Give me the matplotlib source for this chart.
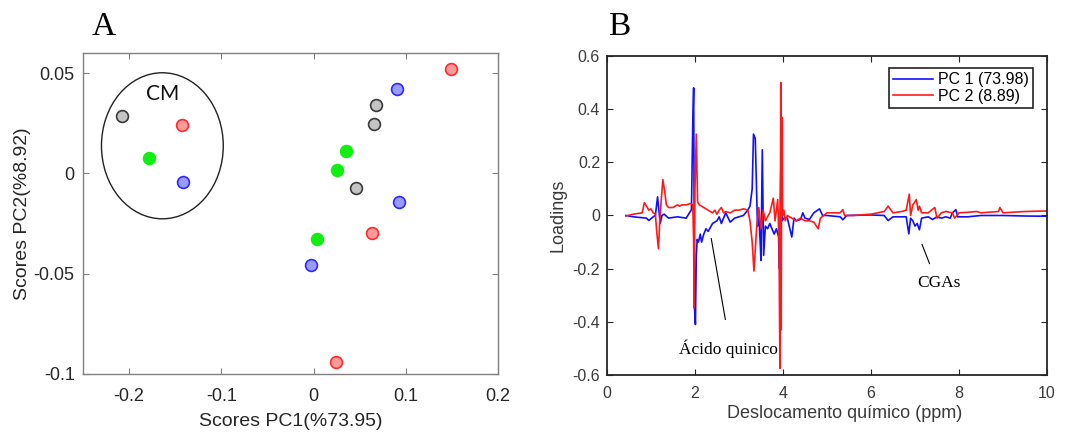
import numpy as np
import matplotlib
matplotlib.use("Agg")
import matplotlib.pyplot as plt
from matplotlib.patches import Ellipse

plt.rcParams.update({
    "font.family": ["Liberation Sans", "DejaVu Sans"],
    "axes.linewidth": 1.0,
    "xtick.direction": "in",
    "ytick.direction": "in",
    "xtick.top": True,
    "ytick.right": True,
})

# ---------------- Panel A: PCA scores ----------------
score_groups = ["red", "blue", "gray", "green"]
score_pc1 = {
    "red":   [0.1495, 0.0639, 0.0242, -0.1422],
    "blue":  [0.0903, 0.0931, -0.0022, -0.1415],
    "gray":  [0.0679, 0.0657, 0.0458, -0.2080],
    "green": [0.0350, 0.0260, 0.0036, -0.1780],
}
score_pc2 = {
    "red":   [0.0522, -0.0297, -0.0938, 0.0240],
    "blue":  [0.0420, -0.0145, -0.0455, -0.0043],
    "gray":  [0.0340, 0.0247, -0.0075, 0.0285],
    "green": [0.0113, 0.0017, -0.0325, 0.0075],
}
face = {"red": "#ff9a9a", "blue": "#9a9aff", "gray": "#c4c4c4", "green": "#11ee11"}
edge = {"red": "#ff2a2a", "blue": "#2a2aff", "gray": "#3a3a3a", "green": "#11ee11"}

cm_center = (-0.1639, 0.01375)
cm_width, cm_height = 0.1321, 0.0728

# ---------------- Panel B: loadings ----------------
pc1_x = [0.43, 0.6, 0.9, 0.95, 1.05, 1.1, 1.15, 1.18, 1.21, 1.25, 1.3, 1.4, 1.6, 1.8, 1.92,
         1.95, 1.97, 1.99, 2.01, 2.03, 2.05, 2.08, 2.12, 2.15, 2.2, 2.25, 2.3, 2.4, 2.5, 2.55,
         2.6, 2.7, 2.8, 2.9, 3.0, 3.1, 3.2, 3.25, 3.3, 3.33, 3.37, 3.42, 3.45, 3.48, 3.5,
         3.53, 3.56, 3.6, 3.65, 3.7, 3.8, 3.85, 3.9, 3.92, 3.95, 3.98, 4.02, 4.1, 4.2, 4.25,
         4.3, 4.4, 4.45, 4.5, 4.6, 4.7, 4.83, 4.9, 5.0, 5.3, 5.36, 5.45, 6.0, 6.3, 6.39, 6.5,
         6.8, 6.86, 6.9, 6.95, 7.0, 7.05, 7.1, 7.15, 7.3, 7.4, 7.5, 7.6, 7.7, 7.8, 7.85,
         7.93, 7.97, 8.2, 8.5, 9.0, 9.5, 10.0]
pc1_y = [0.0, -0.005, -0.01, -0.019, -0.005, 0.0, 0.07, 0.02, -0.03, 0.0, 0.005, -0.01, -0.005,
         -0.01, 0.022, 0.35, 0.48, -0.35, -0.41, -0.15, -0.09, -0.1, -0.07, -0.1, -0.07, -0.05,
         -0.06, -0.03, -0.02, -0.005, -0.03, 0.01, -0.025, -0.01, -0.005, 0.0, 0.02, 0.035, 0.1,
         0.306, 0.29, -0.04, 0.0, -0.094, -0.169, 0.247, -0.15, -0.04, -0.05, -0.03, -0.07,
         -0.05, -0.08, -0.2, 0.17, -0.02, -0.01, -0.01, -0.081, -0.01, -0.02, -0.015, 0.01,
         -0.01, -0.015, 0.01, 0.025, 0.0, 0.0, -0.005, -0.016, 0.0, 0.002, 0.0, -0.019, -0.005,
         -0.005, -0.069, -0.01, -0.02, -0.04, -0.03, -0.054, -0.01, -0.005, -0.015, -0.005,
         -0.01, -0.005, -0.01, 0.01, 0.022, -0.005, -0.005, 0.0, 0.0, -0.002, -0.003]

pc2_x = [0.43, 0.6, 0.8, 0.85, 0.9, 0.95, 1.0, 1.05, 1.1, 1.13, 1.17, 1.2, 1.23, 1.27, 1.32,
         1.35, 1.4, 1.5, 1.6, 1.65, 1.7, 1.8, 1.9, 1.95, 1.97, 1.98, 2.0, 2.03, 2.06, 2.1,
         2.2, 2.3, 2.4, 2.45, 2.5, 2.55, 2.6, 2.65, 2.7, 2.8, 2.9, 3.0, 3.1, 3.2, 3.25, 3.3,
         3.34, 3.4, 3.45, 3.5, 3.55, 3.6, 3.7, 3.78, 3.82, 3.88, 3.91, 3.93, 3.95, 3.96, 3.97,
         3.99, 4.02, 4.05, 4.1, 4.2, 4.3, 4.4, 4.5, 4.6, 4.7, 4.8, 4.85, 5.0, 5.1, 5.3, 5.36,
         5.4, 5.6, 6.0, 6.3, 6.39, 6.5, 6.7, 6.8, 6.87, 6.9, 6.95, 7.03, 7.07, 7.1, 7.15, 7.3,
         7.45, 7.5, 7.6, 7.7, 7.85, 7.9, 8.0, 8.2, 8.4, 8.5, 8.9, 8.93, 9.0, 9.2, 9.5, 10.0]
pc2_y = [-0.002, 0.005, 0.01, 0.048, 0.035, 0.02, 0.025, 0.01, 0.005, -0.06, -0.125, -0.02,
         0.05, 0.135, 0.08, 0.04, 0.03, 0.03, 0.04, 0.035, 0.04, 0.04, 0.045, 0.04, -0.1, -0.347,
         0.1, 0.306, 0.05, 0.04, 0.03, 0.02, 0.01, 0.02, 0.005, 0.02, 0.03, 0.01, 0.015, 0.01,
         0.02, 0.02, 0.025, 0.02, -0.02, -0.1, -0.209, -0.05, 0.03, -0.05, 0.02, -0.02, 0.01,
         0.065, -0.02, 0.06, -0.1, -0.575, 0.5, -0.43, 0.37, 0.0, 0.02, -0.02, 0.0, -0.01,
         -0.02, -0.01, -0.02, -0.02, -0.025, -0.05, -0.01, 0.01, 0.01, 0.01, 0.022, 0.0, 0.0,
         0.005, 0.015, 0.035, 0.01, 0.015, 0.02, 0.08, 0.0, 0.04, 0.06, 0.02, 0.035, 0.01, 0.01,
         0.03, -0.01, 0.01, 0.015, 0.01, -0.01, 0.01, 0.012, 0.015, 0.01, 0.015, 0.03, 0.01,
         0.012, 0.015, 0.017]

quinic_line_x, quinic_line_y = [2.37, 2.69], [-0.087, -0.391]
cga_line_x, cga_line_y = [7.16, 7.33], [-0.109, -0.181]

TXT = "#262626"
fig = plt.figure(figsize=(10.86, 4.33), dpi=100)

# ---------- A ----------
axA = fig.add_axes([0.0764, 0.1363, 0.3821, 0.7413])
for g in score_groups:
    axA.plot(score_pc1[g], score_pc2[g], "o", ls="none", ms=8.5, mfc=face[g],
             mec=edge[g], mew=1.2, zorder=3)
axA.add_patch(Ellipse(cm_center, cm_width, cm_height, fill=False, ec="#222222", lw=1.0))
axA.text(-0.1635, 0.0395, "CM", fontsize=15, family=["Lato", "DejaVu Sans"], color="#111111",
         ha="center", va="center")
axA.set_xlim(-0.25, 0.2)
axA.set_ylim(-0.1, 0.06)
axA.set_xticks([-0.2, -0.1, 0, 0.1, 0.2])
axA.set_xticklabels(["-0.2", "-0.1", "0", "0.1", "0.2"])
axA.set_yticks([-0.1, -0.05, 0, 0.05])
axA.set_yticklabels(["-0.1", "-0.05", "0", "0.05"])
axA.tick_params(labelsize=13, colors="#808080", labelcolor=TXT, length=4, pad=6)
axA.tick_params(axis="x", pad=10)
for s in axA.spines.values():
    s.set_color("#808080")
axA.set_xlabel("Scores PC1(%73.95)", fontsize=14, color=TXT, labelpad=6)
axA.set_ylabel("Scores PC2(%8.92)", fontsize=14, color=TXT, labelpad=2)

# ---------- B ----------
axB = fig.add_axes([0.5589, 0.134, 0.4052, 0.7367])
axB.plot(pc1_x, pc1_y, color="#1010ff", lw=1.2, label="PC 1 (73.98)")
axB.plot(pc2_x, pc2_y, color="#ff1a1a", lw=1.2, label="PC 2 (8.89)")
axB.plot(quinic_line_x, quinic_line_y, color="black", lw=0.8)
axB.plot(cga_line_x, cga_line_y, color="black", lw=0.8)
axB.text(2.77, -0.5, "Ácido quinico", fontsize=12.5, family=["Liberation Serif", "DejaVu Serif"],
         ha="center", va="center")
axB.text(7.55, -0.2525, "CGAs", fontsize=12.5, family=["Liberation Serif", "DejaVu Serif"],
         ha="center", va="center")
axB.set_xlim(0, 10)
axB.set_ylim(-0.6, 0.6)
axB.set_xticks([0, 2, 4, 6, 8, 10])
axB.set_yticks([-0.6, -0.4, -0.2, 0, 0.2, 0.4, 0.6])
axB.set_yticklabels(["-0.6", "-0.4", "-0.2", "0", "0.2", "0.4", "0.6"])
axB.tick_params(labelsize=11.5, colors="#262626", labelcolor="#3a3a3a", length=4, pad=5)
axB.tick_params(axis="x", pad=8)
for s in axB.spines.values():
    s.set_color("#262626")
    s.set_linewidth(1.3)
axB.set_xlabel("Deslocamento químico (ppm)", fontsize=13, color="#3a3a3a")
axB.xaxis.set_label_coords(0.54, -0.095)
axB.set_ylabel("Loadings", fontsize=13, color="#3a3a3a", labelpad=4)
leg = axB.legend(loc="upper right", bbox_to_anchor=(0.968, 0.962), fontsize=11.5,
                 fancybox=False, framealpha=1, edgecolor="#222222", handlelength=2.5,
                 borderpad=0.25, labelspacing=0.1, handletextpad=0.3, borderaxespad=0)
leg.get_frame().set_linewidth(1.2)

fig.text(104 / 1086, 1 - 35 / 433, "A", fontsize=24, family=["Liberation Serif", "DejaVu Serif"],
         ha="center", va="baseline")
fig.text(619 / 1086, 1 - 35 / 433, "B", fontsize=24, family=["Liberation Serif", "DejaVu Serif"],
         ha="center", va="baseline")

fig.savefig("out.png", dpi=100)
